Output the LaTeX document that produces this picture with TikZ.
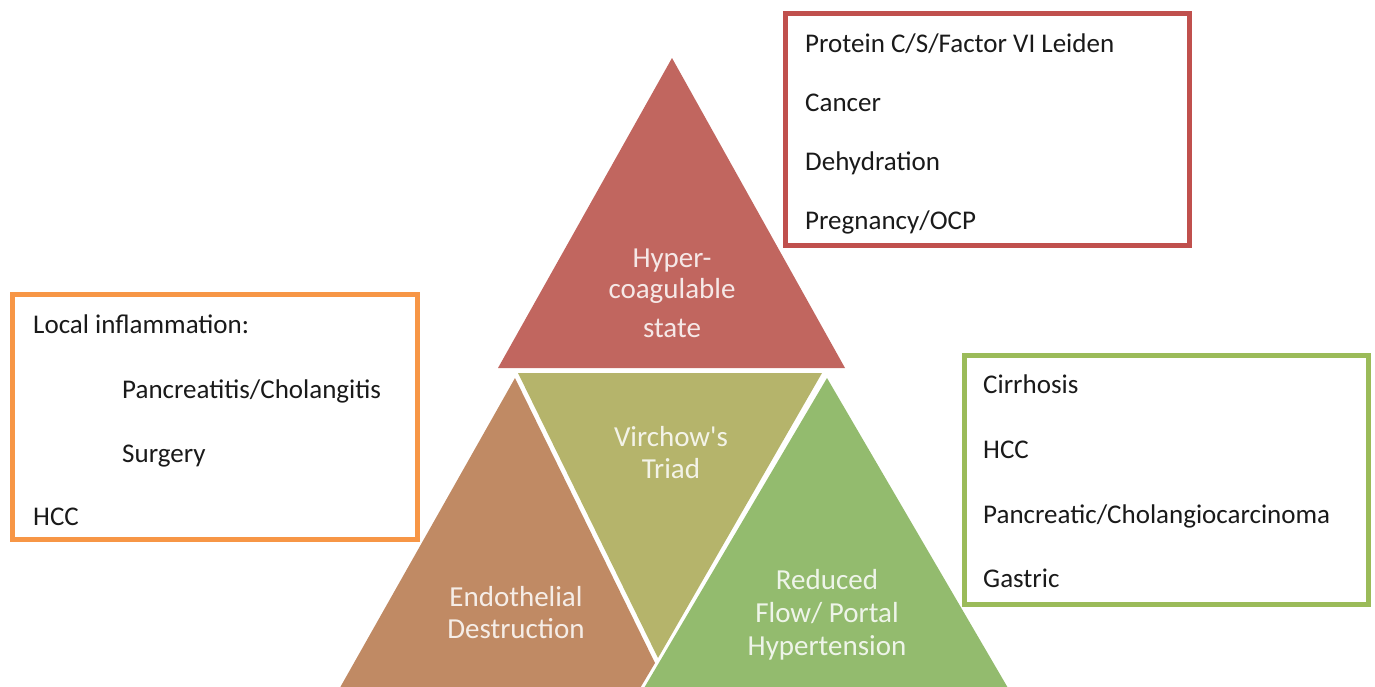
\documentclass[tikz,border=0pt]{standalone}
\usepackage{fontspec}
\setmainfont{Carlito}
\definecolor{redfill}{HTML}{C1665F}
\definecolor{olivefill}{HTML}{B5B46B}
\definecolor{brownfill}{HTML}{C08A64}
\definecolor{greenfill}{HTML}{93BB6E}
\definecolor{redline}{HTML}{C0504D}
\definecolor{orangeline}{HTML}{F79646}
\definecolor{greenline}{HTML}{9BBB59}
\definecolor{boxtext}{HTML}{1A1A1A}
\tikzset{
  listtext/.style={anchor=base west, inner sep=0pt, text=boxtext, font=\fontsize{27}{27}\selectfont},
  tritext/.style={anchor=base, inner sep=0pt, text=white, text opacity=0.85, font=\fontsize{29}{29}\selectfont},
  listbox/.style={line width=5pt, fill=white},
}
\begin{document}
\begin{tikzpicture}[x=1pt,y=-1pt]
\useasboundingbox (0,0) rectangle (1375,686);
\begin{scope}
\clip (0,0) rectangle (1375,686);
% pyramid segments
\fill[brownfill] (515,378) -- (333,700) -- (633,700) -- (655,663) -- cycle;
\fill[olivefill] (518,373) -- (822,373) -- (658,658) -- cycle;
\fill[greenfill] (827,378) -- (637,700) -- (1015,700) -- cycle;
\fill[redfill] (672,58) -- (498,368) -- (845,368) -- cycle;
\end{scope}
% triangle labels
\node[tritext] (h1) at (672,267) {Hyper-};
\node[tritext] (h2) at (672,298) {coagulable};
\node[tritext] (h3) at (672,337) {state};
\node[tritext] (v1) at (671,446) {Virchow\textquotesingle s};
\node[tritext] (v2) at (671,478) {Triad};
\node[tritext] (e1) at (516,606) {Endothelial};
\node[tritext] (e2) at (516,638) {Destruction};
\node[tritext] (r1) at (827,589) {Reduced};
\node[tritext] (r2) at (827,622) {Flow/ Portal};
\node[tritext] (r3) at (827,655) {Hypertension};
% boxes
\draw[listbox, draw=redline] (785.5,13.5) rectangle (1189.5,245.5);
\node[listtext] (p1) at (805,52) {Protein C/S/Factor VI Leiden};
\node[listtext] (p2) at (805,111) {Cancer};
\node[listtext] (p3) at (805,170) {Dehydration};
\node[listtext] (p4) at (805,229) {Pregnancy/OCP};
\draw[listbox, draw=orangeline] (12.5,294.5) rectangle (417.5,539.5);
\node[listtext] (l1) at (33,333) {Local inflammation:};
\node[listtext] (l2) at (122,398) {Pancreatitis/Cholangitis};
\node[listtext] (l3) at (122,462) {Surgery};
\node[listtext] (l4) at (33,525) {HCC};
\draw[listbox, draw=greenline] (964.5,355.5) rectangle (1368,604.5);
\node[listtext] (g1) at (983,393) {Cirrhosis};
\node[listtext] (g2) at (983,458) {HCC};
\node[listtext] (g3) at (983,523) {Pancreatic/Cholangiocarcinoma};
\node[listtext] (g4) at (983,587) {Gastric};
\end{tikzpicture}
\end{document}
